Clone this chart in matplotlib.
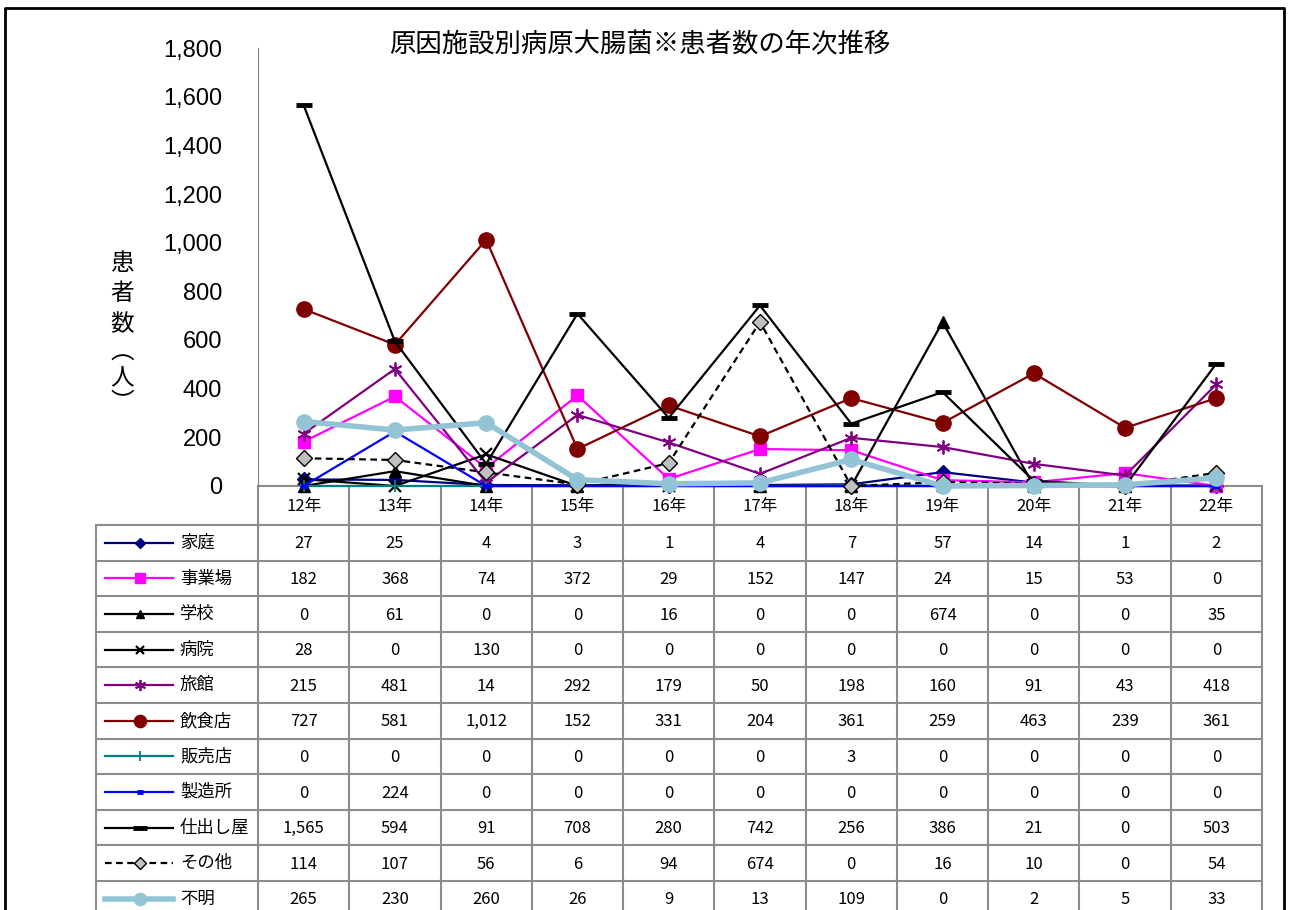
import matplotlib.pyplot as plt

plt.rcParams['font.family'] = ['Noto Sans CJK JP', 'DejaVu Sans']

# データ（患者数）
years = ['12年', '13年', '14年', '15年', '16年', '17年', '18年', '19年', '20年', '21年', '22年']
names = ['家庭', '事業場', '学校', '病院', '旅館', '飲食店', '販売店', '製造所', '仕出し屋', 'その他', '不明']
katei = [27, 25, 4, 3, 1, 4, 7, 57, 14, 1, 2]
jigyojo = [182, 368, 74, 372, 29, 152, 147, 24, 15, 53, 0]
gakko = [0, 61, 0, 0, 16, 0, 0, 674, 0, 0, 35]
byoin = [28, 0, 130, 0, 0, 0, 0, 0, 0, 0, 0]
ryokan = [215, 481, 14, 292, 179, 50, 198, 160, 91, 43, 418]
inshokuten = [727, 581, 1012, 152, 331, 204, 361, 259, 463, 239, 361]
hanbaiten = [0, 0, 0, 0, 0, 0, 3, 0, 0, 0, 0]
seizosho = [0, 224, 0, 0, 0, 0, 0, 0, 0, 0, 0]
shidashiya = [1565, 594, 91, 708, 280, 742, 256, 386, 21, 0, 503]
sonota = [114, 107, 56, 6, 94, 674, 0, 16, 10, 0, 54]
fumei = [265, 230, 260, 26, 9, 13, 109, 0, 2, 5, 33]
series = [katei, jigyojo, gakko, byoin, ryokan, inshokuten, hanbaiten, seizosho, shidashiya, sonota, fumei]

# 線のスタイル
styles = [
    dict(color='#000080', lw=1.6, marker='D', ms=7, mfc='#000080', mec='#000080'),
    dict(color='#FF00FF', lw=1.6, marker='s', ms=9, mfc='#FF00FF', mec='#FF00FF'),
    dict(color='black', lw=1.6, marker='^', ms=8, mfc='black', mec='black'),
    dict(color='black', lw=1.6, marker='x', ms=8, mew=1.6, mec='black'),
    dict(color='#800080', lw=1.6, marker=(6, 2, 0), ms=10, mew=1.3, mec='#800080'),
    dict(color='#800000', lw=1.6, marker='o', ms=11, mfc='#800000', mec='#800000'),
    dict(color='#008080', lw=1.6, marker='|', ms=9, mew=1.3, mec='#008080'),
    dict(color='#0000FF', lw=1.6, marker='_', ms=6, mew=3.5, mec='#0000FF'),
    dict(color='black', lw=1.6, marker='_', ms=12, mew=3.5, mec='black'),
    dict(color='black', lw=1.6, ls=(0, (3, 2)), marker='D', ms=8, mfc='#C0C0C0', mec='black'),
    dict(color='#93C4D6', lw=4, marker='o', ms=11, mfc='#93C4D6', mec='#93C4D6'),
]

W, H = 1290, 910
fig = plt.figure(figsize=(W / 100, H / 100), dpi=100)

# 枠・表用のオーバーレイ（ピクセル座標）
ov = fig.add_axes([0, 0, 1, 1])
ov.set_xlim(0, W)
ov.set_ylim(H, 0)
ov.axis('off')

ax = fig.add_axes([258 / W, 1 - 486 / H, (1262 - 258) / W, (486 - 48) / H])
x = list(range(len(years)))
for vals, st in zip(series, styles):
    ax.plot(x, vals, clip_on=False, zorder=3, **st)
ax.set_xlim(-0.5, len(years) - 0.5)
ax.set_ylim(0, 1800)
ax.set_yticks(range(0, 1801, 200))
ax.set_yticklabels([f'{v:,}' for v in range(0, 1801, 200)],
                   family=['Liberation Sans', 'DejaVu Sans'], fontsize=17)
ax.tick_params(axis='y', length=0, pad=26)
ax.set_xticks([])
for s in ['top', 'right', 'bottom']:
    ax.spines[s].set_visible(False)
ax.spines['left'].set_color('#808080')
ax.patch.set_alpha(0)

ov.text(640, 45, '原因施設別病原大腸菌※患者数の年次推移',
        ha='center', va='center', fontsize=19)
# 縦書きの軸ラベル
for ch, yy in zip('患者数︵人︶', [263, 294, 325, 353, 378, 403]):
    ov.text(122, yy, ch, ha='center', va='center', fontsize=17)

# 外枠
ov.plot([5, 5, 1284, 1284], [H + 5, 8, 8, H + 5], color='black', lw=2, clip_on=False)

# データテーブル
gray = '#8C8C8C'
col_w = (1262 - 258) / len(years)
head_top, row_top, row_h = 486, 525, 35.6
n = len(names)
bottom = row_top + n * row_h
ov.plot([258, 1262], [head_top, head_top], color=gray, lw=1.5)
for i in range(len(years) + 1):
    xx = 258 + i * col_w
    ov.plot([xx, xx], [head_top, bottom], color=gray, lw=1.5)
ov.plot([96, 96], [row_top, bottom], color=gray, lw=1.5)
for j in range(n + 1):
    yy = row_top + j * row_h
    ov.plot([96, 1262], [yy, yy], color=gray, lw=1.5)
for i, yr in enumerate(years):
    ov.text(258 + (i + 0.5) * col_w, (head_top + row_top) / 2 + 1, yr,
            ha='center', va='center', fontsize=12)
for j, (nm, vals, st) in enumerate(zip(names, series, styles)):
    yc = row_top + (j + 0.5) * row_h
    line_st = {k: v for k, v in st.items() if k not in ('marker', 'ms', 'mfc', 'mec', 'mew')}
    ov.plot([105, 173], [yc, yc], **line_st)
    mk = {k: v for k, v in st.items() if k in ('marker', 'ms', 'mfc', 'mec', 'mew')}
    mk['ms'] = mk['ms'] * 0.8
    ov.plot([140], [yc], ls='none', **mk)
    ov.text(180, yc, nm, ha='left', va='center', fontsize=12.5)
    for i, v in enumerate(vals):
        ov.text(258 + (i + 0.5) * col_w, yc + 1, f'{v:,}',
                ha='center', va='center', fontsize=12)

fig.savefig('out.png', dpi=100)
